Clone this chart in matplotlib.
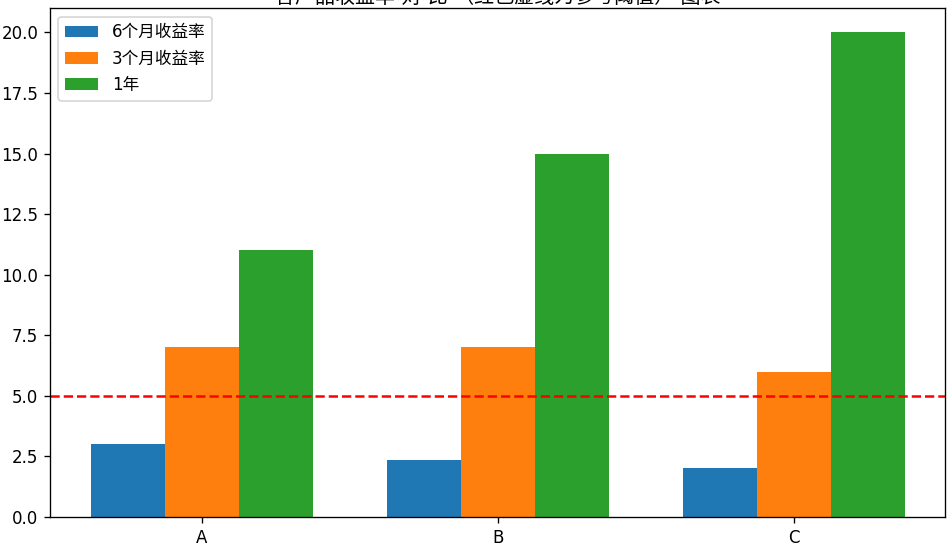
import matplotlib.pyplot as plt
import numpy as np

# fonts: digits in DejaVu, Chinese falls back to Noto CJK
plt.rcParams['font.family'] = ['DejaVu Sans', 'Noto Sans CJK SC']

# data
categories = ['A', 'B', 'C']
six_months = [3, 2.33, 2]
three_months = [7, 7, 6]
one_year = [11, 15, 20]
series_labels = ['6个月收益率', '3个月收益率', '1年']
threshold = 5
title = '各产品收益率 对 比 （红色虚线为参考阈值） 图表'

x = np.arange(len(categories))
width = 0.25

fig = plt.figure(figsize=(952 / 120, 547 / 120), dpi=120)
ax = fig.add_axes([0.0525, 0.055, 0.9405, 0.930])

ax.bar(x - width, six_months, width, label=series_labels[0])
ax.bar(x, three_months, width, label=series_labels[1])
ax.bar(x + width, one_year, width, label=series_labels[2])

# reference line
ax.axhline(threshold, color='red', linestyle='--')

ax.set_xticks(x)
ax.set_xticklabels(categories)
# title sits at the very top edge, as in the original
ax.set_title(title, pad=3)
ax.legend(loc='upper left')

plt.savefig('out.png', dpi=120)
